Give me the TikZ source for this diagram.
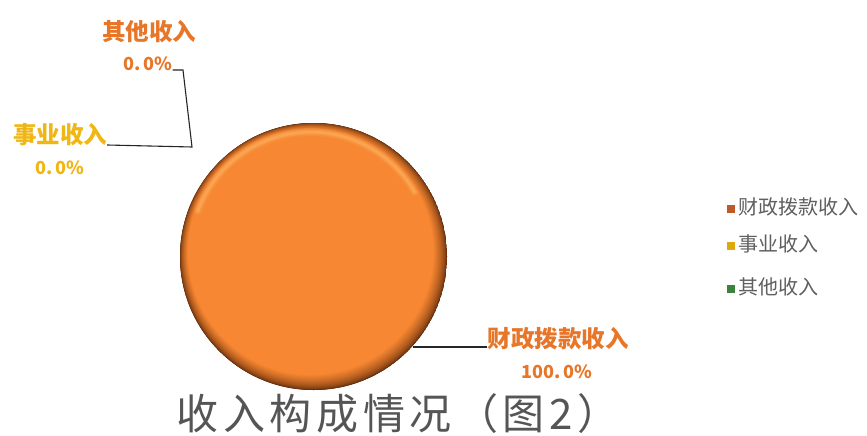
\documentclass[tikz,border=0pt]{standalone}
\usepackage{fontspec}
\newfontfamily\cjk{Noto Sans CJK SC}
\usetikzlibrary{calc}
\definecolor{orng}{RGB}{247,135,50}
\definecolor{darkbr}{RGB}{95,42,10}
\definecolor{hilite}{RGB}{255,195,115}
\definecolor{lblorange}{RGB}{232,118,40}
\definecolor{lblyellow}{RGB}{240,182,20}
\definecolor{legtext}{RGB}{95,95,95}
\definecolor{titlegray}{RGB}{85,85,85}
\definecolor{legA}{RGB}{190,90,40}
\definecolor{legB}{RGB}{220,170,10}
\definecolor{legC}{RGB}{60,130,60}
\tikzset{
  lbl/.style={font=\cjk\bfseries\fontsize{23.5}{25}\selectfont, inner sep=0pt, anchor=center},
  pct/.style={font=\cjk\bfseries\fontsize{18}{20}\selectfont, inner sep=0pt, anchor=center},
  leader/.style={draw=black!85, line width=1.1pt},
  legsq/.style={minimum size=7.5pt, inner sep=0pt, draw=none},
  legtxt/.style={font=\cjk\fontsize{20}{22}\selectfont, text=legtext, inner sep=0pt, anchor=west},
}
\begin{document}
\begin{tikzpicture}[x=1pt,y=-1pt]
\useasboundingbox[fill=white] (0,0) rectangle (867,436);
\coordinate (c) at (313.5,256.5);
% pie (single full slice) with bevel shading
\begin{scope}
  \clip (c) circle (133.5pt);
  \fill[darkbr] (c) circle (134pt);
  \foreach \k in {0,...,40}{
    \pgfmathsetmacro\pc{min(100,100*(\k/40)^0.6)}
    \pgfmathsetmacro\rr{133.5-0.27*\k}
    \pgfmathsetmacro\dx{-0.07*\k}
    \pgfmathsetmacro\dy{0.11*\k}
    \fill[orng!\pc!darkbr] ($(c)+(\dx pt,\dy pt)$) circle (\rr pt);
  }
  \foreach \w/\o in {8/0.12,5/0.2,2.5/0.3}{
    \draw[hilite, line width=\w pt, opacity=\o, line cap=round]
      ($(c)+(-2.8pt,4.4pt)$) ++(160:120pt) arc (160:30:120pt);
  }
\end{scope}
% labels
\node[lbl, text=lblorange] (qt) at (149,32) {其他收入};
\node[pct, text=lblorange] (qtp) at (148,64) {0.\,0\%};
\node[lbl, text=lblyellow] (sy) at (60,135) {事业收入};
\node[pct, text=lblyellow] (syp) at (60,168) {0.\,0\%};
\node[lbl, text=lblorange] (cz) at (558,339) {财政拨款收入};
\node[pct, text=lblorange] (czp) at (557,372) {100.\,0\%};
% leader lines
\coordinate (q1) at (183,70);
\coordinate (q2) at (192,147);
\coordinate (czs) at (413,347);
\draw[leader] (sy.east |- 0,145) -- (q2) -- (q1) -- (qtp.east |- q1);
\draw[leader] (czs) -- (cz.west |- czs);
% legend
\node[legsq, fill=legA] (la) at (731,209) {};
\node[legsq, fill=legB] (lb) at (731,246) {};
\node[legsq, fill=legC] (lc) at (731,289) {};
\node[legtxt] (ta) at (738,207) {财政拨款收入};
\node[legtxt] (tb) at (738,244) {事业收入};
\node[legtxt] (tc) at (738,287) {其他收入};
% title
\node[font=\cjk\fontsize{42}{46}\selectfont\addfontfeature{LetterSpace=11}, text=titlegray, inner sep=0pt] (title) at (398,414) {收入构成情况（图2）};
\end{tikzpicture}
\end{document}
